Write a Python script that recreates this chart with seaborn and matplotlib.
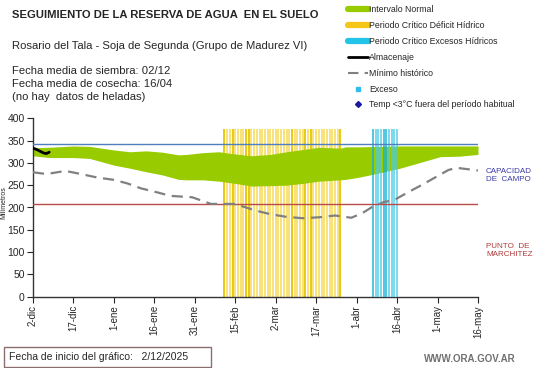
import numpy as np
import matplotlib
matplotlib.use("Agg")
import matplotlib.pyplot as plt
from matplotlib.lines import Line2D
from matplotlib.patches import Rectangle
import seaborn as sns

# Datos (dias desde el 2-dic)
tick_days = [0, 15, 30, 45, 60, 75, 90, 105, 120, 135, 150, 165]
tick_labels = ["2-dic", "17-dic", "1-ene", "16-ene", "31-ene", "15-feb",
               "2-mar", "17-mar", "1-abr", "16-abr", "1-may", "16-may"]

# Intervalo normal (banda verde)
band_days = [0, 6, 15, 21, 30, 36, 42, 48, 54, 57, 63, 69, 75, 81, 88, 94,
             100, 106, 114, 116, 121, 128, 136, 143, 151, 158, 165]
band_upper = [334, 335, 338, 337, 329, 325, 327, 324, 318, 319, 323, 325, 320,
              316, 319, 325, 330, 335, 333, 336, 336, 337, 338, 338, 338, 338, 338]
band_lower = [316, 312, 312, 310, 295, 288, 280, 273, 263, 262, 262, 259, 254,
              248, 249, 250, 254, 259, 262, 263, 268, 277, 288, 300, 314, 315, 319]

# Minimo historico
min_days = [0, 5, 12, 17, 24, 30, 35, 40, 46, 51, 59, 66, 75, 82, 88, 94, 100,
            106, 112, 118, 122, 126, 130, 134, 139, 144, 149, 154, 157, 161, 165]
min_vals = [279, 275, 282, 276, 267, 262, 254, 243, 234, 226, 223, 208, 208, 194,
            185, 179, 176, 178, 182, 177, 187, 202, 212, 217, 234, 250, 267, 284,
            289, 286, 283]

# Almacenaje
alm_days = [0, 1, 2, 3, 4, 5, 6]
alm_vals = [333, 331, 328, 325, 322, 321, 324]

capacidad_campo = 342
punto_marchitez = 207
periodo_top = 376

deficit_days = list(range(71, 115))
deficit_dark = [71, 74, 79, 80, 96, 101, 103, 114]
exceso_days = list(range(126, 136))
exceso_dark = [126, 130, 131]

sns.set_style("ticks")
plt.rcParams["font.family"] = ["Liberation Sans", "DejaVu Sans"]

fig = plt.figure(figsize=(5.41, 3.68), dpi=100)
ax = fig.add_axes([33 / 541, 1 - 296.7 / 368, 445 / 541, 178.4 / 368])

# Periodo critico deficit hidrico (amarillo)
ycol = ["#e9c400" if d in deficit_dark else "#f7df6e" for d in deficit_days]
ax.vlines(deficit_days, 0, periodo_top, colors=ycol, lw=1.3, zorder=1)

# Intervalo normal
ax.fill_between(band_days, band_lower, band_upper, color="#99cc00", lw=0, zorder=2)

# Periodo critico excesos hidricos (celeste)
ccol = ["#0fb0d6" if d in exceso_dark else "#4ccbe6" for d in exceso_days]
ax.vlines(exceso_days, 0, periodo_top, colors=ccol, lw=1.2, alpha=0.85, zorder=3)

ax.axhline(capacidad_campo, color="#4f7fbf", lw=1, zorder=4)
ax.axhline(punto_marchitez, color="#b94a48", lw=1, zorder=4)

sns.lineplot(x=min_days, y=min_vals, ax=ax, color="#808080", lw=1.6,
             linestyle=(0, (5, 3)), zorder=5)
sns.lineplot(x=alm_days, y=alm_vals, ax=ax, color="black", lw=2, zorder=6)

ax.set_xlim(0, 165)
ax.set_ylim(0, 400)
ax.set_xticks(tick_days)
ax.set_xticklabels(tick_labels, rotation=90, fontsize=7)
ax.set_yticks(range(0, 401, 50))
ax.tick_params(axis="y", labelsize=7.5, length=4, width=0.8, pad=2)
ax.tick_params(axis="x", length=4, width=0.8, pad=2)
ax.set_ylabel("Milímetros", fontsize=5)
ax.yaxis.set_label_coords(-26 / 445, 0.53)
for s in ["top", "right"]:
    ax.spines[s].set_visible(False)
for s in ["left", "bottom"]:
    ax.spines[s].set_color("#333333")
    ax.spines[s].set_linewidth(1)


def ftext(x, y, s, **kw):
    fig.text(x / 541, 1 - y / 368, s, va="center", **kw)


ftext(12, 15, "SEGUIMIENTO DE LA RESERVA DE AGUA  EN EL SUELO", fontsize=8.1, weight="bold")
ftext(12, 46, "Rosario del Tala - Soja de Segunda (Grupo de Madurez VI)", fontsize=8.1)
ftext(12, 71, "Fecha media de siembra: 02/12", fontsize=8.1)
ftext(12, 84, "Fecha media de cosecha: 16/04", fontsize=8.1)
ftext(12, 97, "(no hay  datos de heladas)", fontsize=8.1)

ftext(486, 175, "CAPACIDAD\nDE  CAMPO", fontsize=5.8, color="#3a3aa8", linespacing=1.2)
ftext(486, 251, "PUNTO  DE\nMARCHITEZ", fontsize=5.8, color="#b03a3a", linespacing=1.2)

ftext(424, 359, "WWW.ORA.GOV.AR", fontsize=7, color="#707070", weight="bold")
fig.patches.append(Rectangle((4 / 541, 1 - 367 / 368), 207 / 541, 20 / 368,
                             transform=fig.transFigure, fill=False,
                             edgecolor="#8b6f6f", lw=1))
ftext(9, 357, "Fecha de inicio del gráfico:   2/12/2025", fontsize=7.5)

handles = [
    Line2D([], [], color="#99cc00", lw=4.5),
    Line2D([], [], color="#f5c518", lw=4.5),
    Line2D([], [], color="#22c4e8", lw=4.5),
    Line2D([], [], color="black", lw=2),
    Line2D([], [], color="#808080", lw=1.5, linestyle=(0, (5, 3))),
    Line2D([], [], color="#33bbee", marker="s", markersize=2.2, ls="none"),
    Line2D([], [], color="#1a1a9e", marker="D", markersize=3, ls="none"),
]
labels = ["Intervalo Normal", "Periodo Crítico Déficit Hídrico",
          "Periodo Crítico Excesos Hídricos", "Almacenaje", "Mínimo histórico",
          "Exceso", "Temp <3°C fuera del período habitual"]
fig.legend(handles, labels, loc="upper left", bbox_to_anchor=(344 / 541, 1 - 2 / 368),
           frameon=False, fontsize=6.3, labelspacing=0.78, handlelength=2.3,
           handletextpad=0.15, borderaxespad=0)

fig.savefig("out.png", dpi=100)
